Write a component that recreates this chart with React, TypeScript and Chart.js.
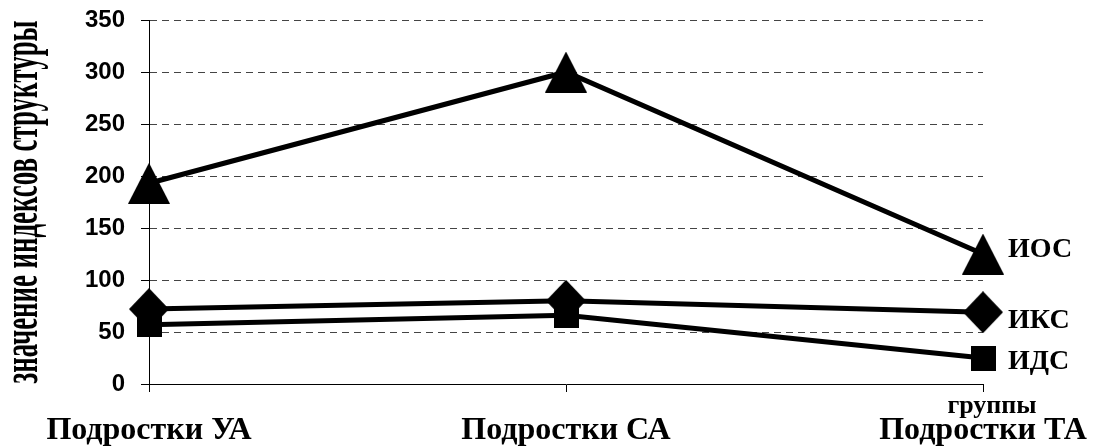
import React, { useEffect, useRef } from 'react';
import { Chart, registerables } from 'chart.js';

Chart.register(...registerables);

const categories = ['Подростки УА', 'Подростки СА', 'Подростки ТА'];
const seriesNames = ['ИОС', 'ИКС', 'ИДС'];
const iosValues = [193, 300, 125];
const iksValues = [72, 80, 69];
const idsValues = [57, 66, 25];
const yMin = 0;
const yMax = 350;
const yStep = 50;
const xAxisTitle = 'группы';
const yAxisTitle = 'значение индексов структуры';

const SERIF = "'Liberation Serif', 'Times New Roman', serif";
const SANS = "'Liberation Sans', Arial, sans-serif";

function makeMarker(kind: string, w: number, h: number): HTMLCanvasElement {
  const c = document.createElement('canvas');
  c.width = w;
  c.height = h;
  const g = c.getContext('2d')!;
  g.fillStyle = '#000';
  g.beginPath();
  if (kind === 'triangle') {
    g.moveTo(w / 2, 0);
    g.lineTo(w, h);
    g.lineTo(0, h);
  } else if (kind === 'diamond') {
    g.moveTo(w / 2, 0);
    g.lineTo(w, h / 2);
    g.lineTo(w / 2, h);
    g.lineTo(0, h / 2);
  } else {
    g.rect(0, 0, w, h);
  }
  g.closePath();
  g.fill();
  return c;
}

export default function App() {
  const ref = useRef<HTMLCanvasElement | null>(null);

  useEffect(() => {
    if (!ref.current) return;
    const tri = makeMarker('triangle', 42, 41);
    const dia = makeMarker('diamond', 40, 42);
    const sq = makeMarker('square', 25, 25);

    const seriesLabels = {
      id: 'seriesLabels',
      afterDatasetsDraw(chart: any) {
        const ctx = chart.ctx;
        const offsets = [3, 16, 11];
        ctx.save();
        ctx.fillStyle = '#000';
        ctx.font = `bold 28px ${SERIF}`;
        ctx.textAlign = 'left';
        ctx.textBaseline = 'alphabetic';
        chart.data.datasets.forEach((ds: any, i: number) => {
          const meta = chart.getDatasetMeta(i);
          const pt = meta.data[meta.data.length - 1];
          ctx.fillText(ds.label, pt.x + 25, pt.y + offsets[i]);
        });
        ctx.restore();
      },
    };

    const axisTitles = {
      id: 'axisTitles',
      afterDraw(chart: any) {
        const ctx = chart.ctx;
        const area = chart.chartArea;
        ctx.save();
        ctx.fillStyle = '#000';
        ctx.font = `bold 50px ${SERIF}`;
        const w = ctx.measureText(yAxisTitle).width;
        ctx.translate(37, (area.top + area.bottom) / 2);
        ctx.rotate(-Math.PI / 2);
        ctx.scale((area.bottom - area.top - 1) / w, 1);
        ctx.textAlign = 'center';
        ctx.textBaseline = 'alphabetic';
        ctx.fillText(yAxisTitle, 0, 0);
        ctx.restore();

        const xs = chart.scales.x;
        const lastX = xs.getPixelForValue(categories.length - 1);
        ctx.save();
        ctx.fillStyle = '#000';
        ctx.font = `bold 26px ${SERIF}`;
        ctx.textAlign = 'center';
        ctx.textBaseline = 'alphabetic';
        ctx.fillText(xAxisTitle, lastX + 9, area.bottom + 29);
        ctx.restore();
      },
    };

    const mk = (label: string, data: number[], style: HTMLCanvasElement) => ({
      label,
      data,
      borderColor: '#000',
      backgroundColor: '#000',
      borderWidth: 5,
      tension: 0,
      pointStyle: style,
      pointRadius: 10,
      pointHoverRadius: 10,
      clip: false as any,
    });

    const chart = new Chart(ref.current, {
      type: 'line',
      data: {
        labels: categories,
        datasets: [
          mk(seriesNames[0], iosValues, tri),
          mk(seriesNames[1], iksValues, dia),
          mk(seriesNames[2], idsValues, sq),
        ],
      },
      plugins: [seriesLabels, axisTitles],
      options: {
        animation: false,
        responsive: false,
        events: [],
        layout: { padding: { top: 20, right: 116, left: 0, bottom: 0 } },
        plugins: {
          legend: { display: false },
          tooltip: { enabled: false },
          title: { display: false },
        },
        scales: {
          x: {
            type: 'category',
            offset: false,
            afterFit: (s: any) => {
              s.height = 64;
              s.paddingLeft = 0;
              s.paddingRight = 0;
            },
            grid: {
              drawOnChartArea: false,
              drawTicks: true,
              tickLength: 8,
              tickColor: '#000',
              tickWidth: 1,
            },
            border: { display: true, color: '#000', width: 1 },
            ticks: {
              color: '#000',
              padding: 20,
              maxRotation: 0,
              autoSkip: false,
              font: { family: SERIF, size: 32, weight: 'bold' },
            },
          },
          y: {
            min: yMin,
            max: yMax,
            afterFit: (s: any) => {
              s.width = 149;
              s.paddingTop = 0;
              s.paddingBottom = 0;
            },
            grid: {
              color: (c: any) => (c.tick && c.tick.value === 0 ? 'rgba(0,0,0,0)' : '#444'),
              lineWidth: 1,
              drawTicks: true,
              tickLength: 8,
              tickColor: '#000',
              tickWidth: 1,
              tickBorderDash: [],
            } as any,
            border: { display: true, color: '#000', width: 1, dash: [7, 5] } as any,
            ticks: {
              stepSize: yStep,
              color: '#000',
              padding: 16,
              font: { family: SANS, size: 24, weight: 'bold' },
            },
          },
        },
      } as any,
    });
    return () => chart.destroy();
  }, []);

  return (
    <div style={{ position: 'absolute', left: 0, top: 0, width: 1099, height: 448, background: '#fff' }}>
      <canvas ref={ref} width={1099} height={448} style={{ display: 'block' }} />
    </div>
  );
}
